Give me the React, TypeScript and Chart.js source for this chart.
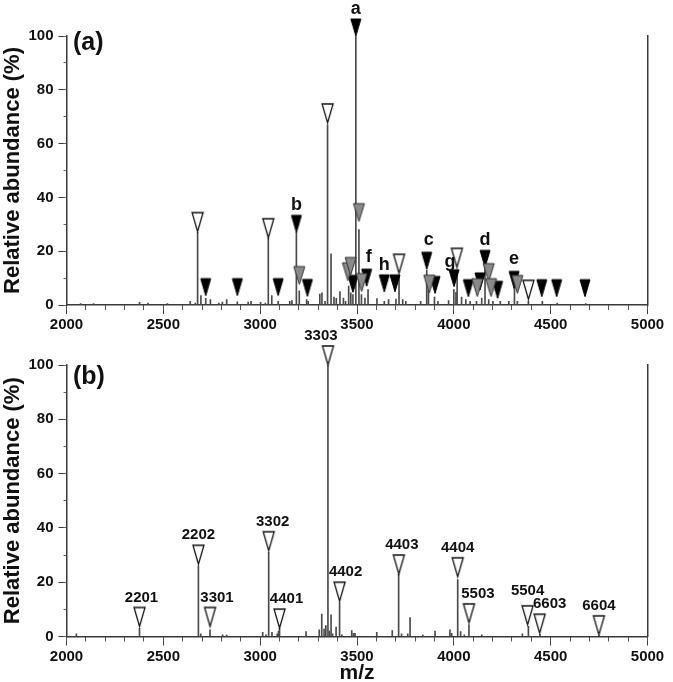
import React, { useEffect, useRef } from 'react';
import { Chart, registerables } from 'chart.js';
Chart.register(...registerables);

// ---------- data: panel (a) ----------
const A_PEAK_MZ = [2073, 2140, 2377, 2421, 2521, 2639, 2665, 2677, 2694, 2719, 2743, 2787, 2805, 2827, 2882, 2938, 2953, 3002, 3027, 3042, 3060, 3093, 3153, 3164, 3187, 3202, 3240, 3248, 3308, 3319, 3335, 3348, 3366, 3381, 3393, 3412, 3430, 3441, 3457, 3468, 3479, 3494, 3510, 3523, 3541, 3557, 3603, 3641, 3663, 3701, 3717, 3736, 3752, 3829, 3860, 3869, 3900, 3918, 3973, 4000, 4011, 4017, 4040, 4062, 4084, 4117, 4144, 4161, 4180, 4202, 4240, 4284, 4313, 4328, 4385, 4457, 4534, 4681];
const A_PEAK_INT = [0.5, 0.5, 1, 0.7, 0.5, 1.4, 0.7, 27, 3.5, 2.5, 2, 0.7, 1.1, 2, 1.2, 1.1, 1.4, 1, 0.7, 25, 3.5, 1.4, 1.4, 1.6, 27, 5.3, 2, 1.4, 4.1, 4.5, 1.4, 67, 19, 2.9, 2.5, 5, 2.6, 1.4, 7, 4.5, 3.9, 100, 28, 3.9, 2.6, 5.7, 2.4, 1.4, 2, 2.2, 11, 2, 1.4, 1.4, 13, 5.7, 2.9, 1.4, 1.6, 5.7, 4.7, 13, 2.9, 2, 1.4, 1.4, 2.6, 14, 2, 1.4, 1.4, 1.4, 6.5, 1.4, 1.5, 1.4, 0.7, 0.5];

const A_BLACK_MZ = [2719, 2882, 3093, 3187, 3244, 3479, 3494, 3550, 3641, 3696, 3860, 3903, 4001, 4075, 4135, 4161, 4226, 4311, 4454, 4531, 4677];
const A_BLACK_TIP = [3.5, 3.5, 3.5, 27, 3.2, 4.7, 100, 7, 4.9, 4.9, 13.3, 4.3, 6.8, 3.1, 5.6, 14, 2.5, 6.2, 3.1, 3.1, 3.1];
const A_BLACK_TAG = ['', '', '', 'b', '', '', 'a', 'f', 'h', '', 'c', '', 'g', '', '', 'd', '', 'e', '', '', ''];

const A_GRAY_MZ = [3202, 3453, 3467, 3510, 3524, 3873, 4121, 4180, 4192, 4328];
const A_GRAY_TIP = [7.6, 9, 11, 31, 5, 4.4, 3.1, 8.7, 3.1, 4.3];

const A_WHITE_MZ = [2677, 3042, 3348, 3717, 4016, 4385];
const A_WHITE_TIP = [27.3, 25, 67.7, 11.8, 14, 2.1];

// ---------- data: panel (b) ----------
const B_PEAK_MZ = [2051, 2377, 2681, 2693, 2741, 2806, 2827, 3013, 3030, 3044, 3061, 3088, 3095, 3100, 3237, 3305, 3318, 3330, 3339, 3350, 3357, 3366, 3374, 3392, 3410, 3422, 3473, 3482, 3490, 3602, 3682, 3715, 3730, 3762, 3774, 3840, 3903, 3980, 3989, 4020, 4035, 4054, 4078, 4144, 4354, 4385, 4445, 4750];
const B_PEAK_INT = [1, 3, 26, 1, 2.5, 0.6, 0.5, 1.5, 0.6, 31, 1.5, 1, 2, 3, 1.8, 2.5, 8.3, 2.7, 4, 100, 2, 8, 1, 3.5, 12.5, 0.6, 2.2, 1.2, 1.2, 1.5, 2.2, 23, 1, 1, 7, 0.5, 2, 2.5, 1.2, 21, 1.8, 0.6, 4.3, 0.6, 1, 3.7, 0.8, 0.3];

const B_MARK_MZ = [2377, 2681, 2741, 3044, 3100, 3350, 3410, 3716, 4020, 4078, 4381, 4443, 4749];
const B_MARK_TIP = [3.7, 26.6, 3.7, 31.6, 3.1, 100, 13, 23, 22, 5, 4.3, 1.2, 0.6];
const B_MARK_TAG = ['2201', '2202', '3301', '3302', '4401', '3303', '4402', '4403', '4404', '5503', '5504', '6603', '6604'];

// ---------- axis ----------
const X_MIN = 2000;
const X_MAX = 5000;
const X_MAJOR = 500;
const X_MINOR = 100;
const Y_MIN = 0;
const Y_MAX = 100;
const Y_MAJOR = 20;
const Y_MINOR = 5;
const Y_TITLE = 'Relative abundance (%)';
const X_TITLE = 'm/z';

const FONT = "'Liberation Sans', Arial, Helvetica, sans-serif";
const W = 673;
const H = 682;

function triangle(fill: string, stroke: string, w: number, h: number, lw: number) {
  const c = document.createElement('canvas');
  c.width = w + 4;
  c.height = 2 * (h + 2);
  const ctx = c.getContext('2d')!;
  const tip = h + 2;
  ctx.beginPath();
  ctx.moveTo(2, tip - h);
  ctx.lineTo(2 + w, tip - h);
  ctx.lineTo(2 + w / 2, tip);
  ctx.closePath();
  ctx.fillStyle = fill;
  ctx.fill();
  ctx.lineWidth = lw;
  ctx.strokeStyle = stroke;
  ctx.lineJoin = 'miter';
  ctx.stroke();
  return c;
}

const tagPlugin = {
  id: 'tags',
  afterDatasetsDraw(chart: any, _a: any, opts: any) {
    const ctx = chart.ctx;
    ctx.save();
    ctx.fillStyle = '#111';
    ctx.textAlign = 'center';
    ctx.textBaseline = 'middle';
    chart.data.datasets.forEach((ds: any, i: number) => {
      if (!ds.tags) return;
      ctx.font = ds.tagFont;
      chart.getDatasetMeta(i).data.forEach((el: any, j: number) => {
        const t = ds.tags[j];
        if (!t) return;
        const s = (opts.shift && opts.shift[t]) || [0, 0];
        ctx.fillText(t, el.x + s[0], el.y - ds.triH - opts.gap + s[1]);
      });
    });
    ctx.font = opts.panelFont;
    ctx.textAlign = 'left';
    ctx.fillText(opts.panel, opts.panelX, opts.panelY);
    ctx.restore();
  },
};

function pts(xs: number[], ys: number[]) {
  return xs.map((x, i) => ({ x, y: ys[i] }));
}

function buildConfig(p: any) {
  const axisColor = '#3a3a3a';
  const tickFont = { family: FONT, size: 15, weight: 'bold' as const };
  const plain = (v: any) => String(v);
  const datasets: any[] = [];
  p.marks.forEach((m: any) => {
    datasets.push({
      type: 'scatter',
      data: pts(m.mz, m.tip),
      pointStyle: triangle(m.fill, m.stroke, m.w, m.h, m.lw),
      pointRadius: 5,
      clip: false,
      order: m.order,
      tags: m.tags,
      tagFont: m.tagFont,
      triH: m.h,
      xAxisID: 'x',
      yAxisID: 'y',
    });
  });
  datasets.push({
    type: 'bar',
    data: pts(p.peakMz, p.peakInt),
    backgroundColor: '#4a4a4a',
    barThickness: 1,
    grouped: false,
    order: 10,
    xAxisID: 'x',
    yAxisID: 'y',
  });
  return {
    type: 'scatter',
    data: { datasets },
    plugins: [tagPlugin],
    options: {
      animation: false,
      responsive: false,
      devicePixelRatio: 1,
      events: [],
      layout: { padding: { top: p.top, right: W - 647.5, left: 0, bottom: p.bottom } },
      plugins: {
        legend: { display: false },
        tooltip: { enabled: false },
        tags: p.tagOpts,
      },
      scales: {
        x: {
          type: 'linear', position: 'bottom', weight: 1, min: X_MIN, max: X_MAX, offset: false,
          ticks: { stepSize: X_MAJOR, font: tickFont, color: '#111', padding: 2, maxRotation: 0, autoSkip: false, callback: plain },
          grid: { drawOnChartArea: false, tickLength: 9, tickColor: axisColor, offset: false },
          border: { color: axisColor, width: 1.5 },
          title: p.xTitle
            ? { display: true, text: X_TITLE, color: '#111', font: { family: FONT, size: 21, weight: 'bold' }, padding: { top: 0, bottom: -4 } }
            : { display: false },
          afterFit: (s: any) => { s.height = p.xHeight; },
        },
        xm: {
          type: 'linear', position: 'bottom', weight: 0, min: X_MIN, max: X_MAX, offset: false,
          ticks: { stepSize: X_MINOR, callback: () => '', autoSkip: false, padding: 0 },
          grid: { drawOnChartArea: false, tickLength: 5, tickColor: '#555', offset: false },
          border: { display: false },
          afterFit: (s: any) => { s.height = 0; },
        },
        y: {
          type: 'linear', position: 'left', weight: 1, min: Y_MIN, max: Y_MAX,
          ticks: { stepSize: Y_MAJOR, font: tickFont, color: '#111', padding: 5, callback: plain },
          grid: { drawOnChartArea: false, tickLength: 8, tickColor: axisColor },
          border: { color: axisColor, width: 1.5 },
          title: { display: true, text: Y_TITLE, color: '#111', font: { family: FONT, size: 22, weight: 'bold' }, padding: { top: 0, bottom: 0 } },
          afterFit: (s: any) => { s.width = 66.5; },
        },
        ym: {
          type: 'linear', position: 'left', weight: 0, min: Y_MIN, max: Y_MAX,
          ticks: { stepSize: Y_MINOR, callback: () => '', padding: 0 },
          grid: { drawOnChartArea: false, tickLength: 3, tickColor: '#666' },
          border: { display: false },
          afterFit: (s: any) => { s.width = 0; },
        },
        yr: {
          type: 'linear', position: 'right', min: Y_MIN, max: Y_MAX,
          ticks: { display: false },
          grid: { display: false },
          border: { display: true, color: axisColor, width: 1.5 },
          afterFit: (s: any) => { s.width = 0; },
        },
      },
    },
  };
}

function configA() {
  const letterFont = `bold 18px ${FONT}`;
  return buildConfig({
    top: 36,
    bottom: H - 305 - 35,
    xHeight: 35,
    xTitle: false,
    peakMz: A_PEAK_MZ,
    peakInt: A_PEAK_INT,
    marks: [
      { mz: A_WHITE_MZ, tip: A_WHITE_TIP, fill: '#ffffff', stroke: '#111', w: 11, h: 19, lw: 1.3, order: 1 },
      { mz: A_GRAY_MZ, tip: A_GRAY_TIP, fill: '#8a8a8a', stroke: '#333', w: 11, h: 18, lw: 1, order: 2 },
      { mz: A_BLACK_MZ, tip: A_BLACK_TIP, fill: '#000', stroke: '#000', w: 10, h: 17, lw: 1, order: 3, tags: A_BLACK_TAG, tagFont: letterFont },
    ],
    tagOpts: {
      gap: 10,
      shift: { g: [-4, 2], c: [2, -2], e: [0, -2], f: [2, -2] },
      panel: '(a)', panelFont: `bold 25px ${FONT}`, panelX: 73, panelY: 43,
    },
  });
}

function configB() {
  const numFont = `bold 15px ${FONT}`;
  return buildConfig({
    top: 365,
    bottom: 0,
    xHeight: H - 636.5,
    xTitle: true,
    peakMz: B_PEAK_MZ,
    peakInt: B_PEAK_INT,
    marks: [
      { mz: B_MARK_MZ, tip: B_MARK_TIP, fill: '#ffffff', stroke: '#111', w: 11, h: 19, lw: 1.3, order: 1, tags: B_MARK_TAG, tagFont: numFont },
    ],
    tagOpts: {
      gap: 10,
      shift: {
        '2201': [2, 0], '3301': [7, 0], '3302': [4, 0], '4401': [7, 0], '3303': [-7, 0],
        '4402': [6, 0], '4403': [3, 0], '5503': [9, 0], '5504': [0, -5], '6603': [10, 0],
      },
      panel: '(b)', panelFont: `bold 25px ${FONT}`, panelX: 73, panelY: 377,
    },
  });
}

function Panel({ build }: { build: () => any }) {
  const ref = useRef<HTMLCanvasElement | null>(null);
  useEffect(() => {
    const chart = new Chart(ref.current as HTMLCanvasElement, build());
    return () => chart.destroy();
  }, []);
  return (
    <canvas
      ref={ref}
      width={W}
      height={H}
      style={{ position: 'absolute', left: 0, top: 0, width: W, height: H, display: 'block' }}
    />
  );
}

export default function App() {
  return (
    <div style={{ position: 'absolute', left: 0, top: 0, width: W, height: H, background: '#ffffff', overflow: 'hidden' }}>
      <Panel build={configA} />
      <Panel build={configB} />
    </div>
  );
}
